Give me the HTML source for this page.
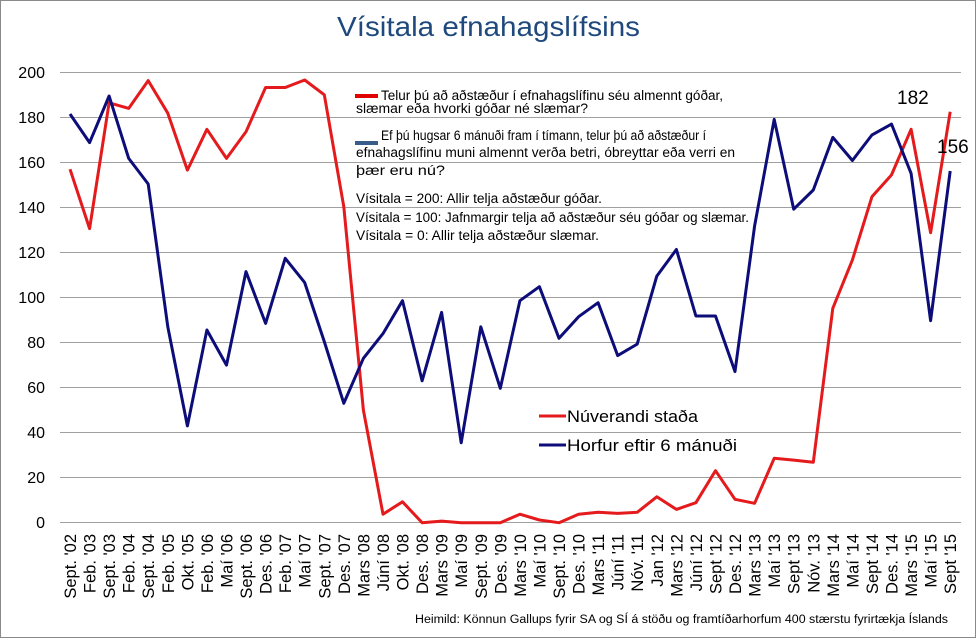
<!DOCTYPE html>
<html><head><meta charset="utf-8"><style>body{margin:0;background:#fff}svg{display:block}</style></head>
<body>
<svg width="977" height="639" xmlns="http://www.w3.org/2000/svg" font-family="Liberation Sans, sans-serif">
<rect x="0.5" y="0.5" width="975" height="637" fill="#fff" stroke="#8a8a8a"/>
<text x="337" y="36" font-size="28" fill="#1f497d" textLength="303" lengthAdjust="spacingAndGlyphs">Vísitala efnahagslífsins</text>
<g stroke="#a0a0a0" stroke-width="1">
<line x1="60" x2="961" y1="72.5" y2="72.5"/><line x1="60" x2="961" y1="117.5" y2="117.5"/><line x1="60" x2="961" y1="162.5" y2="162.5"/><line x1="60" x2="961" y1="207.5" y2="207.5"/><line x1="60" x2="961" y1="252.5" y2="252.5"/><line x1="60" x2="961" y1="297.5" y2="297.5"/><line x1="60" x2="961" y1="342.5" y2="342.5"/><line x1="60" x2="961" y1="387.5" y2="387.5"/><line x1="60" x2="961" y1="432.5" y2="432.5"/><line x1="60" x2="961" y1="477.5" y2="477.5"/><line x1="60" x2="961" y1="522.5" y2="522.5"/>
</g>
<g font-size="16" fill="#000" text-anchor="end">
<text x="45" y="78">200</text><text x="45" y="123">180</text><text x="45" y="168">160</text><text x="45" y="213">140</text><text x="45" y="258">120</text><text x="45" y="303">100</text><text x="45" y="348">80</text><text x="45" y="393">60</text><text x="45" y="438">40</text><text x="45" y="483">20</text><text x="45" y="528">0</text>
</g>
<g font-size="13.5" fill="#000">
<rect x="355" y="94" width="23" height="4" fill="#e00000"/>
<text x="381" y="100" textLength="342" lengthAdjust="spacingAndGlyphs">Telur þú að aðstæður í efnahagslífinu séu almennt góðar,</text>
<text x="356" y="113" textLength="232" lengthAdjust="spacingAndGlyphs">slæmar eða hvorki góðar né slæmar?</text>
<rect x="355" y="141" width="23" height="4" fill="#385d8a"/>
<text x="381" y="140" textLength="325" lengthAdjust="spacingAndGlyphs">Ef þú hugsar 6 mánuði fram í tímann, telur þú að aðstæður í</text>
<text x="356" y="157" textLength="379" lengthAdjust="spacingAndGlyphs">efnahagslífinu muni almennt verða betri, óbreyttar eða verri en</text>
<text x="356" y="175" textLength="89" lengthAdjust="spacingAndGlyphs">þær eru nú?</text>
<text x="356" y="203" textLength="246" lengthAdjust="spacingAndGlyphs">Vísitala = 200:   Allir telja aðstæður góðar.</text>
<text x="356" y="222" textLength="393" lengthAdjust="spacingAndGlyphs">Vísitala = 100:   Jafnmargir telja að aðstæður séu góðar og slæmar.</text>
<text x="356" y="240" textLength="243" lengthAdjust="spacingAndGlyphs">Vísitala = 0:   Allir telja aðstæður slæmar.</text>
</g>
<polyline fill="none" stroke="#e41a1c" stroke-width="3" stroke-linejoin="round" points="70,169.2 89.6,228.6 109.1,102.8 128.7,108.4 148.2,80.6 167.8,113.2 187.4,170.1 206.9,129.3 226.5,158.4 246,131.8 265.6,87.5 285.2,87.5 304.7,80.0 324.3,94.8 343.8,206.7 363.4,410.2 383,514.2 402.5,501.8 422.1,522.7 441.6,521.1 461.2,522.7 480.8,522.7 500.3,522.7 519.9,514.2 539.4,520.0 559,522.7 578.6,514.2 598.1,512.3 617.7,513.4 637.2,512.3 656.8,496.8 676.4,509.4 695.9,502.7 715.5,470.7 735,499.3 754.6,503.3 774.2,458.3 793.7,460.1 813.3,462.3 832.8,308.3 852.4,259.9 872,196.6 891.5,174.9 911.1,129.3 930.6,232.7 950.2,111.7"/>
<polyline fill="none" stroke="#0d0d7a" stroke-width="3" stroke-linejoin="round" points="70,114.0 89.6,142.6 109.1,96.0 128.7,158.4 148.2,184.0 167.8,326.8 187.4,425.9 206.9,330.0 226.5,365.1 246,271.6 265.6,323.4 285.2,258.3 304.7,282.6 324.3,341.6 343.8,403.3 363.4,358.3 383,333.6 402.5,300.7 422.1,380.8 441.6,312.4 461.2,442.8 480.8,326.8 500.3,388.3 519.9,300.7 539.4,286.7 559,338.3 578.6,316.7 598.1,302.7 617.7,355.6 637.2,344.1 656.8,276.1 676.4,249.5 695.9,316.0 715.5,316.0 735,371.6 754.6,226.0 774.2,119.4 793.7,209.2 813.3,190.0 832.8,137.4 852.4,160.5 872,134.9 891.5,124.1 911.1,173.4 930.6,320.7 950.2,171.0"/>
<text x="897" y="104" font-size="19" fill="#000">182</text>
<text x="937" y="153" font-size="19" fill="#000">156</text>
<line x1="539" x2="566" y1="416" y2="416" stroke="#e41a1c" stroke-width="3"/>
<text x="567" y="422" font-size="17" fill="#000" textLength="131" lengthAdjust="spacingAndGlyphs">Núverandi staða</text>
<line x1="539" x2="566" y1="445" y2="445" stroke="#0d0d7a" stroke-width="3"/>
<text x="567" y="451" font-size="17" fill="#000" textLength="170" lengthAdjust="spacingAndGlyphs">Horfur eftir 6 mánuði</text>
<g font-size="16.5" fill="#000" text-anchor="end">
<text transform="translate(76,534) rotate(-90)">Sept. '02</text>
<text transform="translate(95.6,534) rotate(-90)">Feb. '03</text>
<text transform="translate(115.1,534) rotate(-90)">Sept. '03</text>
<text transform="translate(134.7,534) rotate(-90)">Feb. '04</text>
<text transform="translate(154.2,534) rotate(-90)">Sept. '04</text>
<text transform="translate(173.8,534) rotate(-90)">Feb. '05</text>
<text transform="translate(193.4,534) rotate(-90)">Okt. '05</text>
<text transform="translate(212.9,534) rotate(-90)">Feb. '06</text>
<text transform="translate(232.5,534) rotate(-90)">Maí '06</text>
<text transform="translate(252,534) rotate(-90)">Sept. '06</text>
<text transform="translate(271.6,534) rotate(-90)">Des. '06</text>
<text transform="translate(291.2,534) rotate(-90)">Feb. '07</text>
<text transform="translate(310.7,534) rotate(-90)">Maí '07</text>
<text transform="translate(330.3,534) rotate(-90)">Sept. '07</text>
<text transform="translate(349.8,534) rotate(-90)">Des. '07</text>
<text transform="translate(369.4,534) rotate(-90)">Mars '08</text>
<text transform="translate(389,534) rotate(-90)">Júní '08</text>
<text transform="translate(408.5,534) rotate(-90)">Okt. '08</text>
<text transform="translate(428.1,534) rotate(-90)">Des. '08</text>
<text transform="translate(447.6,534) rotate(-90)">Mars '09</text>
<text transform="translate(467.2,534) rotate(-90)">Maí '09</text>
<text transform="translate(486.8,534) rotate(-90)">Sept. '09</text>
<text transform="translate(506.3,534) rotate(-90)">Des. '09</text>
<text transform="translate(525.9,534) rotate(-90)">Mars '10</text>
<text transform="translate(545.4,534) rotate(-90)">Maí '10</text>
<text transform="translate(565,534) rotate(-90)">Sept. '10</text>
<text transform="translate(584.6,534) rotate(-90)">Des. '10</text>
<text transform="translate(604.1,534) rotate(-90)">Mars '11</text>
<text transform="translate(623.7,534) rotate(-90)">Júní '11</text>
<text transform="translate(643.2,534) rotate(-90)">Nóv. '11</text>
<text transform="translate(662.8,534) rotate(-90)">Jan '12</text>
<text transform="translate(682.4,534) rotate(-90)">Mars '12</text>
<text transform="translate(701.9,534) rotate(-90)">Júní '12</text>
<text transform="translate(721.5,534) rotate(-90)">Sept '12</text>
<text transform="translate(741,534) rotate(-90)">Des. '12</text>
<text transform="translate(760.6,534) rotate(-90)">Mars '13</text>
<text transform="translate(780.2,534) rotate(-90)">Maí '13</text>
<text transform="translate(799.7,534) rotate(-90)">Sept '13</text>
<text transform="translate(819.3,534) rotate(-90)">Nóv. '13</text>
<text transform="translate(838.8,534) rotate(-90)">Mars '14</text>
<text transform="translate(858.4,534) rotate(-90)">Maí '14</text>
<text transform="translate(878,534) rotate(-90)">Sept '14</text>
<text transform="translate(897.5,534) rotate(-90)">Des. '14</text>
<text transform="translate(917.1,534) rotate(-90)">Mars '15</text>
<text transform="translate(936.6,534) rotate(-90)">Maí '15</text>
<text transform="translate(956.2,534) rotate(-90)">Sept '15</text>
</g>
<text x="415" y="623" font-size="11.5" fill="#000" textLength="533" lengthAdjust="spacingAndGlyphs">Heimild: Könnun Gallups fyrir SA og SÍ á stöðu og framtíðarhorfum 400 stærstu fyrirtækja Íslands</text>
</svg>
</body></html>
